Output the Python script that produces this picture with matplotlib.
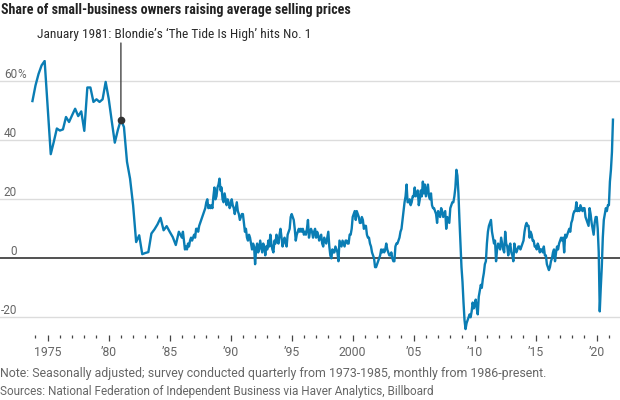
import numpy as np
import matplotlib
matplotlib.use("Agg")
import matplotlib.pyplot as plt
from matplotlib.ticker import FixedLocator

# ── DATA: quarterly survey 1973Q4-1985Q4 (net % raising prices) ──
q_start = 1973.75
quarterly = [53.3, 58.6, 62.5, 65.4, 66.9, 51.0, 35.3, 39.5, 44.0, 43.3,
             43.7, 47.9, 46.2, 48.5, 50.7, 48.2, 49.8, 43.2, 57.9, 57.9,
             53.0, 53.9, 53.0, 53.9, 59.8, 54.1, 46.5, 39.2, 43.5, 47.0,
             44.5, 32.7, 27.0, 18.0, 5.5, 7.8, 1.4, 1.8, 2.1, 8.4,
             9.8, 11.5, 13.7, 9.5, 10.9, 9.0, 7.2, 4.5, 9.0]

# ── DATA: monthly survey Jan 1986 - May 2021 ──
monthly = {
    1986: [7, 9, 6, 3, 4, 3, 5, 4, 6, 7, 6, 7],
    1987: [8, 7, 10, 10, 9, 11, 12, 13, 14, 15, 16, 17],
    1988: [19, 20, 17, 18, 17, 18, 17, 21, 24, 20, 21, 24],
    1989: [25, 27, 23, 24, 20, 19, 22, 20, 18, 20, 19, 17],
    1990: [18, 20, 18, 17, 15, 17, 19, 16, 15, 13, 14, 15],
    1991: [15, 12, 9, 10, 7, 6, 8, 7, 5, 3, 5, 4],
    1992: [-2, 3, 5, 2, 3, 6, 4, 2, 5, 4, 1, 4],
    1993: [3, 6, 4, 8, 5, 3, 2, 6, 5, 8, 6, 5],
    1994: [8, 10, 7, 4, 6, 7, 5, 4, 8, 9, 10, 14],
    1995: [15, 14, 13, 10, 6, 8, 9, 10, 9, 10, 9, 10],
    1996: [8, 9, 8, 10, 13, 7, 9, 10, 9, 7, 9, 10],
    1997: [7, 9, 8, 6, 7, 8, 5, 4, 7, 6, 5, 7],
    1998: [9, 4, 1, 0, 3, 2, 2, 4, 3, 2, -1, 6],
    1999: [5, 4, 6, 5, 4, 6, 6, 5, 5, 8, 8, 10],
    2000: [14, 15, 16, 13, 16, 15, 14, 12, 12, 14, 13, 10],
    2001: [11, 11, 8, 7, 7, 5, 4, 2, 1, 0, -3, -3],
    2002: [-2, -1, 0, 1, 3, 2, 3, 2, 3, 5, 3, 2],
    2003: [1, 1, 2, 0, -1, -1, 4, 5, 5, 6, 7, 9],
    2004: [10, 13, 16, 19, 21, 25, 19, 19, 20, 18, 19, 21],
    2005: [21, 24, 21, 22, 23, 18, 20, 23, 21, 26, 22, 25],
    2006: [21, 23, 25, 21, 20, 22, 18, 17, 17, 16, 15, 12],
    2007: [16, 15, 14, 17, 16, 14, 15, 16, 10, 14, 13, 12],
    2008: [17, 18, 19, 19, 21, 24, 30, 28, 22, 13, 5, -3],
    2009: [-8, -15, -21, -24, -22, -21, -20, -19, -20, -18, -15, -17],
    2010: [-16, -14, -17, -19, -13, -11, -9, -10, -7, -5, -2, -1],
    2011: [5, 9, 11, 12, 13, 9, 7, 5, 6, -1, 3, 5],
    2012: [4, 3, 7, 5, 3, 2, 9, 5, 4, 1, 4, 5],
    2013: [2, 1, -1, 5, 3, 2, 3, 4, 4, 3, 4, 5],
    2014: [6, 9, 11, 12, 11, 11, 7, 9, 8, 6, 6, 4],
    2015: [4, 3, 5, 4, 2, 3, 3, 2, 4, 1, 1, -2],
    2016: [-3, -4, -3, -1, 0, 2, 3, -1, 2, 4, 3, 5],
    2017: [6, 7, 6, 7, 2, 8, 7, 8, 9, 10, 9, 12],
    2018: [13, 15, 16, 16, 19, 16, 17, 16, 18, 17, 16, 17],
    2019: [17, 14, 13, 12, 11, 17, 15, 12, 10, 8, 12, 14],
    2020: [14, 10, 2, -18, -10, -3, 7, 13, 15, 17, 16, 18],
    2021: [18, 26, 30, 36, 47],
}

y_ticks = [-20, 0, 20, 40, 60]
x_major = [1975, 1980, 1985, 1990, 1995, 2000, 2005, 2010, 2015, 2020]
x_labels = ["1975", "\u201980", "\u201985", "\u201990", "\u201995", "2000",
            "\u201905", "\u201910", "\u201915", "\u201920"]
x_minor = list(range(1974, 2022))

annot_date = 1981.0
annot_text = "January 1981: Blondie\u2019s \u2018The Tide Is High\u2019 hits No. 1"
title = "Share of small-business owners raising average selling prices"
note = ("Note: Seasonally adjusted; survey conducted quarterly from 1973-1985, "
        "monthly from 1986-present.")
source = ("Sources: National Federation of Independent Business via Haver "
          "Analytics, Billboard")

# ── build the series ──
q_x = q_start + np.arange(len(quarterly)) * 0.25
m_x, m_y = [], []
for yr, vals in monthly.items():
    for i, v in enumerate(vals):
        m_x.append(yr + i / 12)
        m_y.append(v)
xs = np.concatenate([q_x, m_x])
ys = np.concatenate([quarterly, m_y])

# ── figure ──
W, H = 620, 400
COND = ["Roboto Condensed", "Roboto", "DejaVu Sans"]
BODY = ["Roboto", "DejaVu Sans"]
plt.rcParams["font.family"] = BODY
BLUE = "#0a7db4"
GREY = "#666666"

fig = plt.figure(figsize=(W / 100, H / 100), dpi=100)
renderer = fig.canvas.get_renderer()


def fit_text(x, y, s, width, **kw):
    # put text at pixel position and scale font so it spans `width` pixels
    t = fig.text(x / W, 1 - y / H, s, **kw)
    w = t.get_window_extent(renderer=renderer).width
    t.set_fontsize(t.get_fontsize() * width / w)
    return t


ax_top, ax_bot = 60, 335
ax = fig.add_axes([0, 1 - ax_bot / H, 1, (ax_bot - ax_top) / H])

px_per_year = 12.2
x0 = 1975 - 47.7 / px_per_year
zero_px, px_per_unit = 258.3, 2.95
ax.set_ylim((zero_px - ax_bot) / px_per_unit, (zero_px - ax_top) / px_per_unit)

for s in ax.spines.values():
    s.set_visible(False)
ax.set_facecolor("none")

for t in y_ticks:
    if t == 0:
        ax.axhline(0, color="#222222", lw=1.1, zorder=3)
    else:
        ax.axhline(t, color="#dcdcdc", lw=1.0, zorder=1)
    ypix = zero_px - t * px_per_unit - 7
    fig.text(17 / W, 1 - ypix / H, str(t), ha="right", va="center",
             fontsize=8.5, color=GREY)
fig.text(17 / W, 1 - (zero_px - 60 * px_per_unit - 7) / H, "%", ha="left",
         va="center", fontsize=8.5, color=GREY)

ax.plot(xs, ys, color=BLUE, lw=1.7, zorder=4, solid_joinstyle="round")

ax.set_yticks([])
ax.xaxis.set_major_locator(FixedLocator(x_major))
ax.set_xticklabels(x_labels)
ax.xaxis.set_minor_locator(FixedLocator(x_minor))
ax.set_xlim(x0, x0 + W / px_per_year)
ax.tick_params(axis="x", which="major", length=4.5, width=0.9, color="#444444",
               labelsize=8.8, labelcolor=GREY, pad=3.5)
ax.tick_params(axis="x", which="minor", length=2, width=0.9, color="#444444")

# annotation
q_idx = int(round((annot_date - q_start) / 0.25))
mark_y = quarterly[q_idx]
ax.annotate("", xy=(annot_date, mark_y), xycoords="data",
            xytext=(annot_date, H - 43), textcoords=("data", "figure pixels"),
            arrowprops=dict(arrowstyle="-", color="#444444", lw=1.0,
                            shrinkA=0, shrinkB=0), annotation_clip=False)
ax.plot([annot_date], [mark_y], "o", color="#333333", ms=4.5, zorder=6)

fit_text(37, 34, annot_text, 273, ha="left", va="center", fontsize=10,
         color="#2a2a2a", family=COND)
fit_text(1, 10, title, 348, ha="left", va="center", fontsize=10,
         fontweight="bold", color="#222222", family=COND)
fit_text(0, 373, note, 553, ha="left", va="center", fontsize=9, color=GREY)
fit_text(0, 392, source, 438, ha="left", va="center", fontsize=9, color=GREY)

fig.savefig("out.png", dpi=100)
